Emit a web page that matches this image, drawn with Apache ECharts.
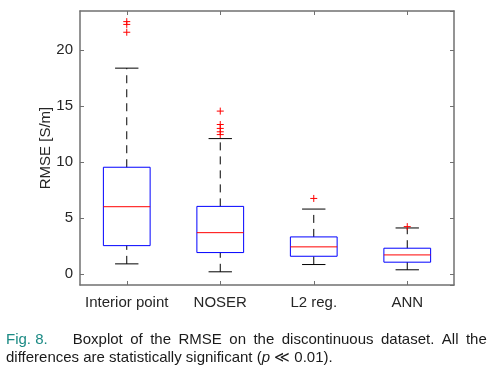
<!DOCTYPE html>
<html>
<head>
<meta charset="utf-8">
<script src="https://cdn.jsdelivr.net/npm/echarts@6/dist/echarts.min.js"></script>
<style>html,body{margin:0;padding:0;background:#fff;}#c{width:490px;height:371px;}</style>
</head>
<body>
<div id="c"></div>
<script>
const categories = ['Interior point', 'NOSER', 'L2 reg.', 'ANN'];
const whiskerLow = [0.89, 0.18, 0.83, 0.36];
const q1 = [2.52, 1.90, 1.57, 1.04];
const medians = [6.00, 3.68, 2.41, 1.69];
const q3 = [9.53, 6.03, 3.30, 2.29];
const whiskerHigh = [18.39, 12.09, 5.79, 4.10];
const outliers = [[22.55, 22.3, 21.6], [14.55, 13.35, 13.0, 12.7, 12.45], [6.74], [4.22]];
const yTitle = 'RMSE [S/m]';
const captionLabel = 'Fig. 8.';
const captionLine1Words = ['Boxplot', 'of', 'the', 'RMSE', 'on', 'the', 'discontinuous', 'dataset.', 'All', 'the'];
const captionLine2 = ['differences are statistically significant (', 'p', ' \u226A 0.01).'];

const FONT = '"Liberation Sans", Arial, Helvetica, sans-serif';
const AXIS_COLOR = '#707070';
const TEXT_COLOR = '#262626';

const boxData = categories.map((c, i) => [i, whiskerLow[i], q1[i], medians[i], q3[i], whiskerHigh[i]]);
const outlierData = [];
outliers.forEach((arr, i) => arr.forEach(v => outlierData.push([i, v])));

const chart = echarts.init(document.getElementById('c'), null, {renderer: 'canvas'});

function renderBox(params, api) {
  const idx = api.value(0);
  const lo = api.coord([idx, api.value(1)]);
  const b1 = api.coord([idx, api.value(2)]);
  const md = api.coord([idx, api.value(3)]);
  const b3 = api.coord([idx, api.value(4)]);
  const hi = api.coord([idx, api.value(5)]);
  const band = api.size([1, 0])[0];
  const bw = band * 0.5;
  const cw = band * 0.25;
  const x = lo[0];
  return {
    type: 'group',
    children: [
      {type: 'line', shape: {x1: x, y1: b3[1], x2: x, y2: hi[1]}, style: {stroke: '#000', lineWidth: 1, lineDash: [8, 6]}},
      {type: 'line', shape: {x1: x, y1: lo[1], x2: x, y2: b1[1]}, style: {stroke: '#000', lineWidth: 1, lineDash: [8, 6]}},
      {type: 'line', shape: {x1: x - cw / 2, y1: hi[1], x2: x + cw / 2, y2: hi[1]}, style: {stroke: '#000', lineWidth: 1}},
      {type: 'line', shape: {x1: x - cw / 2, y1: lo[1], x2: x + cw / 2, y2: lo[1]}, style: {stroke: '#000', lineWidth: 1}},
      {type: 'rect', shape: {x: x - bw / 2, y: b3[1], width: bw, height: b1[1] - b3[1]}, style: {fill: 'none', stroke: '#0000ff', lineWidth: 1}},
      {type: 'line', shape: {x1: x - bw / 2, y1: md[1], x2: x + bw / 2, y2: md[1]}, style: {stroke: '#ff0000', lineWidth: 1}}
    ]
  };
}

function renderOutlier(params, api) {
  const p = api.coord([api.value(0), api.value(1)]);
  const s = 3.5;
  return {
    type: 'group',
    children: [
      {type: 'line', shape: {x1: p[0] - s, y1: p[1], x2: p[0] + s, y2: p[1]}, style: {stroke: '#ff0000', lineWidth: 1}},
      {type: 'line', shape: {x1: p[0], y1: p[1] - s, x2: p[0], y2: p[1] + s}, style: {stroke: '#ff0000', lineWidth: 1}}
    ]
  };
}

// justified first caption line: measure words, spread between start and end
const measureCtx = document.createElement('canvas').getContext('2d');
measureCtx.font = '15px ' + FONT;
const lineStart = 72.7, lineEnd = 486.8;
const widths = captionLine1Words.map(w => measureCtx.measureText(w).width);
const totalW = widths.reduce((a, b) => a + b, 0);
const gap = (lineEnd - lineStart - totalW) / (captionLine1Words.length - 1);

const graphics = [
  {type: 'text', left: 6, top: 332, style: {text: captionLabel, font: '15px ' + FONT, fill: '#1b8a84'}}
];
let cx = lineStart;
captionLine1Words.forEach((w, i) => {
  graphics.push({type: 'text', x: cx, y: 332, style: {text: w, font: '15px ' + FONT, fill: '#1a1a1a', textVerticalAlign: 'top'}});
  cx += widths[i] + gap;
});
graphics.push({
  type: 'text', left: 6, top: 350,
  style: {
    text: '{a|' + captionLine2[0] + '}{i|' + captionLine2[1] + '}{a|' + captionLine2[2] + '}',
    rich: {
      a: {fontSize: 15, fontFamily: FONT, fill: '#1a1a1a', color: '#1a1a1a'},
      i: {fontSize: 15, fontFamily: FONT, fontStyle: 'italic', fill: '#1a1a1a', color: '#1a1a1a'}
    }
  }
});

const yAxisBase = {
  type: 'value', min: -1, max: 23.5, splitNumber: 5,
  axisLine: {show: true, onZero: false, lineStyle: {color: AXIS_COLOR, width: 1.5}},
  axisTick: {show: true, inside: true, length: 4, lineStyle: {color: AXIS_COLOR}},
  splitLine: {show: false}
};
const xAxisBase = {
  type: 'category', data: categories, boundaryGap: true,
  axisLine: {show: true, onZero: false, lineStyle: {color: AXIS_COLOR, width: 1.5}},
  axisTick: {show: true, inside: true, length: 4, alignWithLabel: true, lineStyle: {color: AXIS_COLOR}},
  splitLine: {show: false}
};

chart.setOption({
  animation: false,
  backgroundColor: '#fff',
  grid: {left: 80, right: 36, top: 11, bottom: 86, containLabel: false},
  xAxis: [
    Object.assign({}, xAxisBase, {position: 'bottom', axisLabel: {color: TEXT_COLOR, fontSize: 15, fontFamily: FONT, margin: 10, interval: 0}}),
    Object.assign({}, xAxisBase, {position: 'top', axisLabel: {show: false}})
  ],
  yAxis: [
    Object.assign({}, yAxisBase, {
      position: 'left',
      name: yTitle, nameLocation: 'middle', nameGap: 27, nameRotate: 90, nameMoveOverlap: false,
      nameTextStyle: {color: TEXT_COLOR, fontSize: 15, fontFamily: FONT},
      axisLabel: {color: TEXT_COLOR, fontSize: 15, fontFamily: FONT, margin: 7, showMinLabel: false, showMaxLabel: false}
    }),
    Object.assign({}, yAxisBase, {position: 'right', axisLabel: {show: false}})
  ],
  series: [
    {type: 'custom', renderItem: renderBox, data: boxData, xAxisIndex: 0, yAxisIndex: 0, encode: {x: 0, y: [1, 2, 3, 4, 5]}, clip: false},
    {type: 'custom', renderItem: renderOutlier, data: outlierData, xAxisIndex: 0, yAxisIndex: 0, encode: {x: 0, y: 1}, clip: false}
  ],
  graphic: graphics
});
</script>
</body>
</html>
